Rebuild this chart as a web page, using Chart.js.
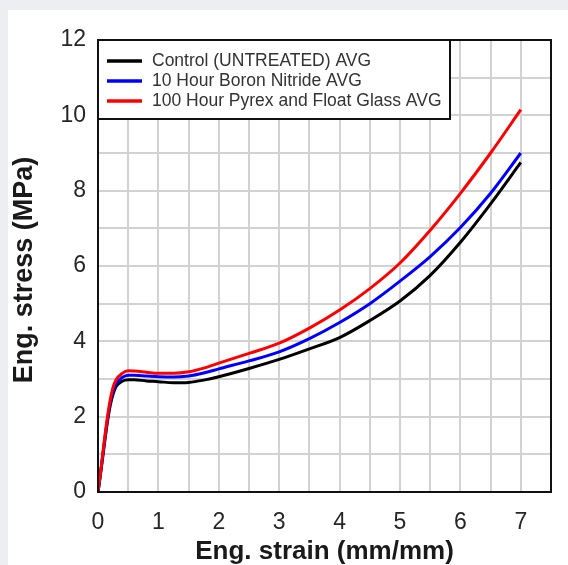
<!DOCTYPE html>
<html>
<head>
<meta charset="utf-8">
<script src="https://cdn.jsdelivr.net/npm/chart.js@4.4.0/dist/chart.umd.min.js"></script>
<style>
  body { margin: 0; background: #eceef1; overflow: hidden; }
  #wrap { position: absolute; left: 8px; top: 10px; width: 560px; height: 555px; background: #fff; }
</style>
</head>
<body>
<div id="wrap"><canvas id="stress" width="560" height="555"></canvas></div>
<script>
// strain values (mm/mm) shared by the three averaged curves
var strain = [0, 0.05, 0.1, 0.15, 0.2, 0.25, 0.3, 0.4, 0.5, 0.6, 0.8, 1.0, 1.25, 1.5, 1.75, 2.0, 2.5, 3.0, 3.5, 4.0, 4.5, 5.0, 5.5, 6.0, 6.5, 7.0];

var controlStress = [0, 0.58, 1.2, 1.8, 2.28, 2.6, 2.8, 2.94, 2.98, 2.98, 2.95, 2.93, 2.9, 2.91, 2.97, 3.06, 3.28, 3.52, 3.8, 4.1, 4.55, 5.07, 5.75, 6.63, 7.65, 8.75];
var boronStress   = [0, 0.6, 1.25, 1.85, 2.35, 2.68, 2.88, 3.04, 3.1, 3.1, 3.08, 3.06, 3.05, 3.08, 3.16, 3.27, 3.48, 3.72, 4.07, 4.5, 5.0, 5.6, 6.25, 7.02, 7.93, 9.0];
var pyrexStress   = [0, 0.62, 1.3, 1.92, 2.42, 2.78, 2.98, 3.15, 3.22, 3.21, 3.18, 3.15, 3.15, 3.19, 3.29, 3.42, 3.68, 3.95, 4.35, 4.83, 5.4, 6.08, 6.95, 7.93, 9.0, 10.15];

var seriesNames = ["Control (UNTREATED) AVG", "10 Hour Boron Nitride AVG", "100 Hour Pyrex and Float Glass AVG"];
var seriesColors = ["#000000", "#0000ff", "#ff0000"];

var xLabels = [0, 1, 2, 3, 4, 5, 6, 7];
var yLabels = [0, 2, 4, 6, 8, 10, 12];
var yTitle = "Eng. stress (MPa)";

function toPoints(ys) {
  return ys.map(function (y, i) { return { x: strain[i], y: y }; });
}

var FONT = "'Liberation Sans', Arial, Helvetica, sans-serif";

// frame around the plot, boxed legend in the top-left corner, rotated y title
var framePlugin = {
  id: "frame",
  afterDatasetsDraw: function (chart) {
    var ctx = chart.ctx, a = chart.chartArea;
    ctx.save();
    ctx.strokeStyle = "#111";
    ctx.lineWidth = 2;
    ctx.strokeRect(a.left, a.top, a.right - a.left, a.bottom - a.top);

    var bx = a.left, by = a.top, bw = 352, bh = 79;
    ctx.fillStyle = "#fff";
    ctx.fillRect(bx, by, bw, bh);
    ctx.strokeRect(bx, by, bw, bh);

    ctx.font = "17.5px " + FONT;
    ctx.textBaseline = "middle";
    chart.data.datasets.forEach(function (ds, i) {
      var y = by + 21 + i * 20;
      ctx.strokeStyle = ds.borderColor;
      ctx.lineWidth = 3.5;
      ctx.beginPath();
      ctx.moveTo(bx + 9, y);
      ctx.lineTo(bx + 44, y);
      ctx.stroke();
      ctx.fillStyle = "#333";
      ctx.fillText(ds.label, bx + 54, y);
    });

    ctx.translate(17, 260);
    ctx.rotate(-Math.PI / 2);
    ctx.font = "bold 27px " + FONT;
    ctx.fillStyle = "#1a1a1a";
    ctx.textAlign = "center";
    ctx.fillText(yTitle, 0, 0);
    ctx.restore();
  }
};

var datasets = [controlStress, boronStress, pyrexStress].map(function (ys, i) {
  return {
    label: seriesNames[i],
    data: toPoints(ys),
    borderColor: seriesColors[i],
    backgroundColor: seriesColors[i],
    borderWidth: 3,
    pointRadius: 0,
    showLine: true,
    cubicInterpolationMode: "monotone",
    order: 2 - i
  };
});

var stressChart = new Chart(document.getElementById("stress"), {
  type: "scatter",
  data: { datasets: datasets },
  options: {
    responsive: false,
    animation: false,
    devicePixelRatio: 1,
    layout: { padding: { left: 0, right: 16, top: 30, bottom: 0 } },
    plugins: { legend: { display: false }, tooltip: { enabled: false } },
    scales: {
      x: {
        type: "linear",
        min: 0, max: 7.5,
        afterFit: function (s) { s.height = 73; },
        ticks: {
          stepSize: 0.5, autoSkip: false, maxRotation: 0, padding: 17,
          color: "#262626", font: { family: FONT, size: 23 },
          callback: function (v) { return xLabels.indexOf(v) >= 0 ? String(v) : ""; }
        },
        grid: { color: "#d2d2d2", lineWidth: 2, drawTicks: false },
        border: { display: false },
        title: {
          display: true, text: "Eng. strain (mm/mm)", color: "#1a1a1a",
          font: { family: FONT, size: 26, weight: "bold", lineHeight: 1 },
          padding: { top: 0, bottom: 0 }
        }
      },
      y: {
        min: 0, max: 12,
        afterFit: function (s) { s.width = 90; },
        ticks: {
          stepSize: 1, autoSkip: false, padding: 12,
          color: "#262626", font: { family: FONT, size: 23 },
          callback: function (v) { return yLabels.indexOf(v) >= 0 ? String(v) : ""; }
        },
        grid: { color: "#d2d2d2", lineWidth: 2, drawTicks: false },
        border: { display: false },
        title: { display: false }
      }
    }
  },
  plugins: [framePlugin]
});
</script>
</body>
</html>
